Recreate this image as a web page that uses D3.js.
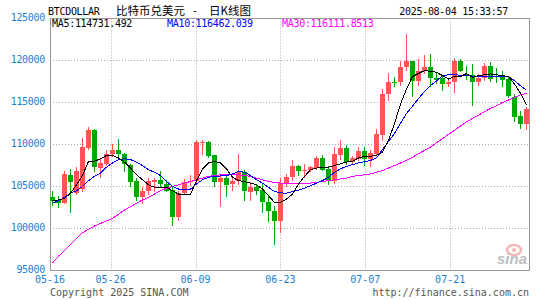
<!DOCTYPE html>
<html lang="zh">
<head>
<meta charset="UTF-8">
<title>BTCDOLLAR 日K线图</title>
<style>
  body { margin: 0; background: #fff; }
  svg { display: block; }
  .mono { font-family: "DejaVu Sans Mono", monospace; font-size: 10px; }
</style>
</head>
<body>
<div id="chart"></div>
<script src="https://cdn.jsdelivr.net/npm/d3@7"></script>
<script>
// 05-16 .. 08-03, one candle per day
const dates = d3.timeDay.range(new Date(2025, 4, 16), new Date(2025, 7, 4))

const open = [
  103700, 103400, 103000, 106400, 104200, 104700, 109600, 111700, 107250, 107700,
  108900, 109400, 108900, 107600, 105600, 103800, 104500, 105500, 105830, 105300,
  104600, 101400, 104200, 105500, 105700, 110200, 110300, 108700, 105500, 106000,
  105300, 105600, 106700, 104400, 104900, 104600, 103200, 102100, 100900, 105400,
  106100, 107400, 106800, 107000, 107200, 108400, 107100, 105700, 108800, 109600,
  107900, 108300, 109200, 108300, 108900, 111100, 116000, 117500, 117400, 119200,
  119900, 117600, 118700, 119200, 117900, 117900, 117200, 117400, 120000, 118300,
  118300, 117500, 117900, 119400, 118200, 118200, 117800, 115700, 113400, 112400
]
const close = [
  103300, 103000, 106500, 105500, 106800, 109700, 111700, 107300, 107800, 108900,
  109400, 108900, 107700, 105500, 103800, 104500, 105700, 105830, 105240, 104500,
  101400, 104200, 105500, 105700, 110300, 110300, 108600, 105500, 106000, 105200,
  105600, 106700, 104500, 104900, 104500, 103100, 102100, 100900, 105400, 106100,
  107400, 106800, 107000, 107300, 108400, 107000, 105700, 108900, 109600, 107900,
  108400, 109200, 108300, 109000, 111200, 116000, 117500, 117400, 119200, 119900,
  117600, 118700, 119200, 117900, 117700, 117200, 117400, 120000, 118700, 118100,
  117500, 117900, 119400, 117800, 118000, 117700, 115800, 113300, 112500, 114200
]
const high = [
  104500, 103900, 106800, 107100, 107300, 110800, 112100, 111900, 108300, 109300,
  110100, 110700, 109000, 107700, 106000, 104900, 106000, 106000, 106800, 105800,
  105000, 104500, 105900, 106400, 110500, 110500, 110400, 108800, 106300, 106400,
  106200, 108900, 107000, 105500, 105300, 105400, 103900, 102700, 106000, 106500,
  108200, 107600, 107700, 107500, 108600, 108800, 107500, 109700, 110500, 110000,
  108600, 109700, 109700, 109300, 111800, 116600, 118500, 118000, 119900, 123200,
  120000, 120200, 120700, 120800, 118600, 118200, 117900, 120300, 120200, 119400,
  119600, 118400, 119700, 119800, 119100, 118800, 118100, 116000, 114000, 114500
]
const low = [
  102700, 102500, 102900, 101900, 104000, 104400, 109300, 106700, 106000, 107400,
  108500, 108500, 106700, 105000, 103300, 102900, 104000, 104300, 104800, 104300,
  100300, 100900, 104000, 105100, 105400, 108800, 108400, 105000, 102600, 103800,
  104500, 105200, 103300, 103300, 104000, 101800, 100800, 98000, 99500, 105000,
  105700, 106300, 106000, 106700, 107000, 106800, 105200, 105300, 108200, 107600,
  107700, 108000, 107500, 107300, 108600, 110400, 115200, 116800, 117000, 118700,
  115700, 117000, 118400, 116900, 117200, 116400, 116900, 116100, 118600, 117700,
  114600, 117000, 117600, 117500, 117300, 116900, 115500, 112700, 111900, 111700
]

const ma5 = [
  103300, 103400, 103600, 104200, 105200, 106300, 108000, 108000, 108300, 108700,
  108700, 108400, 107900, 107200, 106400, 105800, 105200, 104900, 104900, 104900,
  104500, 104100, 104100, 104100, 105700, 107100, 107800, 108000, 107800, 107100,
  106100, 105700, 105600, 105400, 105200, 104700, 103900, 103100, 103100, 103500,
  104100, 105300, 106200, 107000, 107200, 107300, 107300, 107500, 107700, 107900,
  108000, 108400, 108600, 108600, 108700, 109100, 110500, 112500, 114800, 116600,
  118100, 118450, 118800, 118700, 118600, 118200, 117800, 118100, 118100, 118450,
  118000, 118200, 118300, 118400, 118300, 118200, 118100, 117200, 116100, 114731.492
]
const ma10 = [
  103000, 103300, 103700, 104200, 104500, 105000, 105700, 106200, 106600, 107300,
  107800, 108200, 108300, 108200, 107900, 107500, 107000, 106700, 106300, 105600,
  105000, 104700, 104600, 104700, 105300, 105800, 106100, 106200, 106250, 106300,
  106500, 106800, 106700, 106300, 105800, 105400, 104900, 104400, 104250, 104200,
  104400, 104550, 104800, 105100, 105400, 105700, 106100, 106700, 107100, 107400,
  107600, 107800, 107950, 108100, 108400, 109400, 110360, 111310, 112500, 113690,
  114560, 115480, 116310, 117020, 117560, 118210, 118300, 118300, 118250, 118200,
  118150, 118150, 118150, 118150, 118150, 118100, 118100, 117600, 117000, 116462.039
]
const ma30 = [
  95900, 96700, 97400, 98100, 98800, 99500, 99900, 100300, 100600, 100900,
  101200, 101700, 102200, 102600, 103000, 103400, 103700, 104100, 104500, 104800,
  105000, 105200, 105400, 105600, 105800, 106000, 106200, 106300, 106400, 106400,
  106400, 106400, 106300, 106200, 106000, 105800, 105600, 105500, 105400, 105400,
  105400, 105400, 105400, 105400, 105500, 105600, 105700, 105800, 105900, 106000,
  106200, 106300, 106400, 106500, 106700, 106900, 107200, 107500, 107800, 108100,
  108500, 108900, 109300, 109700, 110200, 110700, 111200, 111700, 112200, 112700,
  113100, 113500, 113900, 114300, 114600, 115000, 115300, 115600, 115900, 116111.8513
]

const yTicks = [95000, 100000, 105000, 110000, 115000, 120000, 125000]
const xTickDates = ['2025-05-16', '2025-05-26', '2025-06-09', '2025-06-23', '2025-07-07', '2025-07-21']
const xTickLabels = ['05-16', '05-26', '06-09', '06-23', '07-07', '07-21']

const width = 545
const height = 300
const plot = { left: 50, right: 529, top: 18.5, bottom: 270.5 }

const RED = '#ff5555'
const GREEN = '#00a800'
const BLUE_TEXT = '#1a7fd2'

const svg = d3.select('#chart').append('svg')
  .attr('width', width)
  .attr('height', height)

// candles: 6px step, 5px body
const x = d3.scaleBand()
  .domain(dates.map(d => +d))
  .range([plot.left, plot.right])
  .paddingInner(1 / 6)
  .paddingOuter(0)

// grid / date labels use a time scale over the same span
const xt = d3.scaleTime()
  .domain([dates[0], dates[dates.length - 1]])
  .range([plot.left, plot.right])

const y = d3.scaleLinear()
  .domain([95000, 125000])
  .range([plot.bottom, plot.top])

const cx = i => x(+dates[i]) + x.bandwidth() / 2

// grid
const grid = svg.append('g').attr('stroke', '#aaa').attr('stroke-dasharray', '1 2')
grid.selectAll('line.h')
  .data(yTicks.slice(1, -1))
  .enter().append('line')
  .attr('x1', plot.left).attr('x2', plot.right)
  .attr('y1', d => y(d)).attr('y2', d => y(d))
grid.selectAll('line.v')
  .data(xTickDates.slice(1))
  .enter().append('line')
  .attr('x1', d => Math.round(xt(new Date(d + 'T00:00'))) + 0.5)
  .attr('x2', d => Math.round(xt(new Date(d + 'T00:00'))) + 0.5)
  .attr('y1', plot.top).attr('y2', plot.bottom)

// frame
svg.append('rect')
  .attr('x', plot.left + 0.5).attr('y', plot.top)
  .attr('width', plot.right - plot.left).attr('height', plot.bottom - plot.top)
  .attr('fill', 'none').attr('stroke', '#999')

// y labels
svg.append('g').attr('class', 'mono')
  .selectAll('text')
  .data(yTicks)
  .enter().append('text')
  .attr('x', 45)
  .attr('y', d => y(d) + 2.5)
  .attr('text-anchor', 'end')
  .attr('fill', BLUE_TEXT)
  .attr('letter-spacing', '-0.3')
  .text(d => d)

// x labels
svg.append('g').attr('class', 'mono')
  .selectAll('text')
  .data(xTickDates)
  .enter().append('text')
  .attr('x', d => xt(new Date(d + 'T00:00')))
  .attr('y', 283)
  .attr('text-anchor', 'middle')
  .attr('fill', BLUE_TEXT)
  .text((d, i) => xTickLabels[i])

// candles
const candles = svg.append('g').attr('shape-rendering', 'crispEdges')
const idx = d3.range(dates.length)
candles.selectAll('line')
  .data(idx)
  .enter().append('line')
  .attr('x1', i => cx(i)).attr('x2', i => cx(i))
  .attr('y1', i => y(high[i])).attr('y2', i => y(low[i]))
  .attr('stroke', i => close[i] >= open[i] ? RED : GREEN)
candles.selectAll('rect')
  .data(idx)
  .enter().append('rect')
  .attr('x', i => x(+dates[i]))
  .attr('width', x.bandwidth())
  .attr('y', i => y(Math.max(open[i], close[i])))
  .attr('height', i => Math.max(1, Math.abs(y(open[i]) - y(close[i]))))
  .attr('fill', i => close[i] >= open[i] ? RED : GREEN)

// moving averages
const line = d3.line().x((d, i) => cx(i)).y(d => y(d))
const mas = [
  { v: ma30, c: '#ff00ff' },
  { v: ma10, c: '#0000ff' },
  { v: ma5, c: '#000' }
]
svg.append('g').selectAll('path')
  .data(mas)
  .enter().append('path')
  .attr('d', d => line(d.v))
  .attr('fill', 'none')
  .attr('stroke', d => d.c)
  .attr('stroke-width', 1)
  .attr('shape-rendering', 'crispEdges')

// legend
const legend = [
  { t: 'MA5:' + ma5[ma5.length - 1], c: '#000', x: 52 },
  { t: 'MA10:' + ma10[ma10.length - 1], c: '#0000ff', x: 167 },
  { t: 'MA30:' + ma30[ma30.length - 1], c: '#ff00ff', x: 282 }
]
svg.append('g').attr('class', 'mono')
  .selectAll('text')
  .data(legend)
  .enter().append('text')
  .attr('x', d => d.x).attr('y', 27)
  .attr('fill', d => d.c)
  .attr('letter-spacing', '-0.3')
  .text(d => d.t)

// title
svg.append('text').attr('class', 'mono')
  .attr('x', 48).attr('y', 15)
  .attr('letter-spacing', '-0.3')
  .text('BTCDOLLAR')
const title = svg.append('text')
  .attr('y', 15)
  .attr('font-family', '"Noto Sans CJK SC", sans-serif')
  .attr('font-size', 11.5)
title.append('tspan').attr('x', 116).text('比特币兑美元')
title.append('tspan').attr('x', 193).text('-')
title.append('tspan').attr('x', 209).text('日K线图')
svg.append('text').attr('class', 'mono')
  .attr('x', 508).attr('y', 15)
  .attr('text-anchor', 'end')
  .attr('letter-spacing', '-0.3')
  .text('2025-08-04 15:33:57')

// footer
svg.append('text').attr('class', 'mono')
  .attr('x', 50).attr('y', 296)
  .attr('fill', '#555')
  .text('Copyright 2025 SINA.COM')
svg.append('text').attr('class', 'mono')
  .attr('x', 529).attr('y', 296)
  .attr('text-anchor', 'end')
  .attr('fill', '#555')
  .text('http://finance.sina.com.cn')

// watermark
const wm = svg.append('g').attr('opacity', 0.55)
wm.append('ellipse')
  .attr('cx', 514).attr('cy', 250).attr('rx', 7).attr('ry', 5)
  .attr('fill', 'none').attr('stroke', '#f08080').attr('stroke-width', 2.5)
wm.append('circle')
  .attr('cx', 514).attr('cy', 250).attr('r', 2)
  .attr('fill', '#f08080')
wm.append('text')
  .attr('x', 497).attr('y', 264)
  .attr('font-family', 'Arial, "Liberation Sans", sans-serif')
  .attr('font-size', 15)
  .attr('font-weight', 'bold')
  .attr('font-style', 'italic')
  .attr('fill', '#888')
  .text('sina')
</script>
</body>
</html>
